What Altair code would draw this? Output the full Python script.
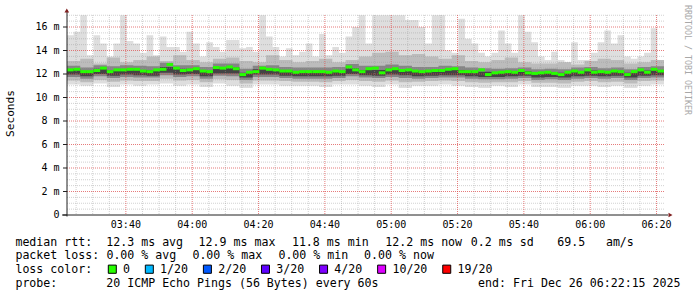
import altair as alt
import pandas as pd

# ---------------- data ----------------
START_MIN = 202.25   # 03:22:15, minutes after midnight
END_MIN = 382.25     # 06:22:15
MED_STEP = 2.0
BAND_STEP = 4.0

median_ms = [
    12.35, 12.4, 12.2, 12.2, 12.3, 12.5, 12.2, 12.35, 12.35, 12.4, 12.4, 12.25, 12.2, 12.35, 12.4, 12.8, 12.5, 12.3,
    12.35, 12.45, 12.25, 12.2, 12.55, 12.5, 12.6, 12.45, 11.95, 12.15, 12.2, 12.5, 12.4, 12.35, 12.25, 12.25, 12.15, 12.2,
    12.2, 12.2, 12.2, 12.15, 12.25, 12.2, 12.6, 12.35, 12.2, 12.45, 12.5, 12.1, 12.35, 12.45, 12.3, 12.35, 12.25, 12.2,
    12.25, 12.3, 12.3, 12.4, 12.45, 12.2, 12.2, 12.2, 12.35, 11.95, 12.1, 12.15, 12.2, 12.15, 12.3, 12.1, 12.05, 12.1,
    12.15, 12.05, 11.95, 12.15, 12.25, 12.15, 12.35, 12.15, 12.2, 12.15, 12.25, 12.2, 11.95, 12.2, 12.35, 12.15, 12.4, 12.25,
]
max_ms = [
    15.3, 15.6, 17.0, 13.6, 15.3, 14.6, 13.5, 14.6, 17.0, 14.8, 14.6, 13.8, 15.3, 13.6, 15.2, 14.3, 14.3, 13.9,
    15.6, 14.6, 13.5, 14.7, 14.3, 13.9, 14.9, 14.9, 14.2, 14.3, 13.9, 17.0, 15.2, 14.3, 13.5, 14.2, 13.6, 13.9,
    14.6, 13.5, 15.4, 13.6, 14.3, 13.8, 15.2, 16.0, 17.0, 14.6, 17.0, 17.0, 17.0, 17.0, 17.0, 16.6, 16.6, 16.0,
    14.6, 17.0, 17.0, 14.0, 13.8, 16.7, 15.0, 14.6, 13.8, 13.5, 13.8, 15.7, 14.6, 13.8, 17.0, 15.6, 14.7, 13.5,
    13.2, 13.9, 13.2, 13.0, 14.7, 13.2, 13.2, 13.8, 14.7, 15.7, 14.6, 15.3, 13.5, 13.3, 13.5, 13.8, 15.9, 12.9,
]
min_ms = [
    11.1, 11.0, 11.2, 10.9, 11.1, 11.0, 11.1, 11.2, 11.0,
    11.1, 10.9, 11.2, 11.0, 10.8, 11.1, 11.1, 11.0, 11.0,
    11.0, 10.9, 11.1, 11.1, 11.0, 10.9, 11.1, 10.8, 11.0,
    11.0, 11.1, 11.0, 10.9, 10.8, 11.0, 10.9, 11.1, 10.9,
    10.9, 10.8, 11.0, 11.0, 10.9, 11.0, 10.8, 11.0, 11.1,
]
p10_ms = [
    11.45, 11.3, 11.5, 11.35, 11.45, 11.4, 11.4, 11.6, 11.45,
    11.5, 11.3, 11.55, 11.5, 11.2, 11.45, 11.45, 11.4, 11.35,
    11.35, 11.3, 11.4, 11.5, 11.4, 11.35, 11.45, 11.3, 11.35,
    11.4, 11.45, 11.4, 11.3, 11.25, 11.3, 11.3, 11.4, 11.25,
    11.25, 11.2, 11.35, 11.4, 11.3, 11.35, 11.2, 11.4, 11.45,
]
p25_ms = [
    11.75, 11.6, 11.8, 11.65, 11.75, 11.7, 11.7, 11.9, 11.75,
    11.8, 11.6, 11.85, 11.8, 11.5, 11.75, 11.75, 11.65, 11.6,
    11.6, 11.6, 11.65, 11.8, 11.7, 11.65, 11.75, 11.65, 11.6,
    11.65, 11.7, 11.7, 11.6, 11.55, 11.55, 11.6, 11.65, 11.5,
    11.55, 11.5, 11.6, 11.65, 11.6, 11.65, 11.5, 11.65, 11.7,
]
p40_ms = [
    11.95, 11.8, 12.0, 11.85, 11.95, 11.9, 11.85, 12.1, 11.95,
    12.0, 11.8, 12.05, 12.05, 11.7, 11.95, 11.95, 11.85, 11.8,
    11.8, 11.8, 11.85, 12.0, 11.9, 11.85, 11.95, 11.9, 11.8,
    11.85, 11.9, 11.9, 11.8, 11.75, 11.75, 11.8, 11.85, 11.7,
    11.75, 11.7, 11.8, 11.85, 11.8, 11.85, 11.7, 11.85, 11.9,
]
p60_ms = [
    12.4, 12.25, 12.45, 12.3, 12.4, 12.35, 12.3, 12.6, 12.45,
    12.45, 12.25, 12.55, 12.55, 12.1, 12.4, 12.4, 12.3, 12.2,
    12.25, 12.2, 12.25, 12.5, 12.35, 12.35, 12.45, 12.35, 12.25,
    12.3, 12.4, 12.35, 12.25, 12.2, 12.15, 12.2, 12.25, 12.1,
    12.15, 12.1, 12.25, 12.3, 12.2, 12.25, 12.1, 12.3, 12.35,
]
p75_ms = [
    12.7, 12.55, 12.75, 12.65, 12.75, 12.7, 12.65, 12.95, 12.75,
    12.75, 12.6, 12.9, 12.9, 12.45, 12.7, 12.75, 12.6, 12.55,
    12.55, 12.55, 12.6, 12.85, 12.7, 12.7, 12.8, 12.7, 12.6,
    12.6, 12.7, 12.65, 12.55, 12.5, 12.45, 12.5, 12.55, 12.4,
    12.45, 12.4, 12.55, 12.6, 12.5, 12.55, 12.4, 12.6, 12.65,
]
p90_ms = [
    13.1, 13.3, 12.9, 13.4, 13.0, 13.2, 13.5, 13.1, 13.6,
    13.2, 13.0, 13.3, 13.4, 13.1, 13.0, 13.6, 13.2, 13.0,
    13.1, 13.3, 13.0, 13.2, 13.5, 13.8, 13.9, 13.6, 13.7,
    13.5, 13.3, 13.6, 13.1, 13.0, 13.2, 13.4, 13.0, 12.9,
    12.9, 13.0, 12.8, 13.1, 13.3, 13.2, 12.9, 13.0, 13.2,
]

x_tick_values = [220, 240, 260, 280, 300, 320, 340, 360, 380]
x_tick_labels = ["03:40", "04:00", "04:20", "04:40", "05:00", "05:20", "05:40", "06:00", "06:20"]
y_tick_values = [0, 2, 4, 6, 8, 10, 12, 14, 16]
y_tick_labels = ["0\u00a0\u00a0", "2 m", "4 m", "6 m", "8 m", "10 m", "12 m", "14 m", "16 m"]

loss_labels = ["0", "1/20", "2/20", "3/20", "4/20", "10/20", "19/20"]
loss_colors = ["#26ff00", "#00b8ff", "#0059ff", "#5e00ff", "#7e00ff", "#dd00ff", "#ff0000"]

row1_texts = ["median rtt:", "12.3 ms avg", "12.9 ms max", "11.8 ms min", "12.2 ms now", "0.2 ms sd", "69.5", "am/s"]
row2_texts = ["packet loss:", "0.00 % avg", "0.00 % max", "0.00 % min", "0.00 % now"]
row3_text = "loss color:"
row4_texts = ["probe:", "20 ICMP Echo Pings (56 Bytes) every 60s"]
end_text = "end: Fri Dec 26 06:22:15 2025"
watermark = "RRDTOOL / TOBI OETIKER"
y_title = "Seconds"

# ---------------- layout ----------------
W, H = 597, 200
LEFT, TOP = 67, 15
YMAX = 200 / 11.75
FONT = "DejaVu Sans Mono"

xs = alt.Scale(domain=[START_MIN, END_MIN], nice=False, zero=False)
ys = alt.Scale(domain=[0, YMAX], nice=False, zero=False)


def stepped(step, **cols):
    n = len(next(iter(cols.values())))
    rows = []
    for i in range(n + 1):
        j = min(i, n - 1)
        row = {"t": START_MIN + step * i}
        for k, v in cols.items():
            row[k] = v[j]
        rows.append(row)
    return pd.DataFrame(rows)


med_area = stepped(MED_STEP, med=median_ms, mx=max_ms)
band = stepped(BAND_STEP, lo=min_ms, p10=p10_ms, p25=p25_ms, p40=p40_ms,
               p60=p60_ms, p75=p75_ms, p90=p90_ms)
med_rules = pd.DataFrame({
    "t0": [START_MIN + MED_STEP * i for i in range(len(median_ms))],
    "t1": [START_MIN + MED_STEP * (i + 1) for i in range(len(median_ms))],
    "med": median_ms,
})


def area(df, top, bottom, color):
    return alt.Chart(df).mark_area(interpolate="step-after", color=color, opacity=1).encode(
        x=alt.X("t:Q", scale=xs, axis=None),
        y=alt.Y(f"{top}:Q", scale=ys, axis=None),
        y2=alt.Y2(f"{bottom}:Q"),
    )


smoke = [
    area(med_area, "mx", "med", "#dedede"),
    area(band, "p90", "lo", "#dedede"),
    area(band, "p90", "p10", "#bcbcbc"),
    area(band, "p75", "p25", "#858585"),
    area(band, "p60", "p40", "#444444"),
]

# grid
minor_y = [v / 2 for v in range(1, 35) if v % 4 != 0]
major_y = [v for v in y_tick_values if v > 0]
minor_x = [205 + 5 * k for k in range(36) if (205 + 5 * k) % 20 != 0]
major_x = x_tick_values


def hgrid(vals, color, opacity):
    return alt.Chart(pd.DataFrame({"v": vals})).mark_rule(
        color=color, opacity=opacity, strokeDash=[1, 1], strokeWidth=1).encode(
        y=alt.Y("v:Q", scale=ys, axis=None), x=alt.value(0), x2=alt.value(W))


def vgrid(vals, color, opacity):
    return alt.Chart(pd.DataFrame({"v": vals})).mark_rule(
        color=color, opacity=opacity, strokeDash=[1, 1], strokeWidth=1).encode(
        x=alt.X("v:Q", scale=xs, axis=None), y=alt.value(0), y2=alt.value(H))


grid = [
    hgrid(minor_y, "#9a9a9a", 0.45),
    vgrid(minor_x, "#9a9a9a", 0.45),
    hgrid(major_y, "#de4f4f", 0.75),
    vgrid(major_x, "#de4f4f", 0.75),
]

median_layer = alt.Chart(med_rules).mark_rule(color="#26ff00", strokeWidth=3, strokeCap="butt").encode(
    x=alt.X("t0:Q", scale=xs, axis=None), x2="t1:Q", y=alt.Y("med:Q", scale=ys, axis=None))

one = pd.DataFrame({"k": [0]})
axis_lines = [
    alt.Chart(one).mark_rule(color="#212121", strokeWidth=1).encode(
        x=alt.value(0), y=alt.value(-5), y2=alt.value(201.5)),
    alt.Chart(one).mark_rule(color="#212121", strokeWidth=1).encode(
        x=alt.value(-5), x2=alt.value(601), y=alt.value(200)),
    alt.Chart(one).mark_point(shape="triangle-up", filled=True, color="#802121", size=22, opacity=1).encode(
        x=alt.value(-0.2), y=alt.value(-4.5)),
    alt.Chart(one).mark_point(shape="triangle-right", filled=True, color="#802121", size=22, opacity=1).encode(
        x=alt.value(603.5), y=alt.value(200)),
]

# axis ticks and labels
y_ticks_df = pd.DataFrame({"v": y_tick_values, "lab": y_tick_labels})
x_ticks_df = pd.DataFrame({"v": x_tick_values, "lab": x_tick_labels})
y_tick_marks = alt.Chart(y_ticks_df).mark_rule(color="#212121", strokeWidth=1).encode(
    y=alt.Y("v:Q", scale=ys, axis=None), x=alt.value(-4), x2=alt.value(0))
y_tick_text = alt.Chart(y_ticks_df).mark_text(
    align="right", baseline="middle", font=FONT, fontSize=10, color="#000000").encode(
    y=alt.Y("v:Q", scale=ys, axis=None), x=alt.value(59.5 - LEFT), text="lab:N")
x_tick_text = alt.Chart(x_ticks_df).mark_text(
    align="center", baseline="alphabetic", font=FONT, fontSize=10, color="#000000").encode(
    x=alt.X("v:Q", scale=xs, axis=None), y=alt.value(228.3 - TOP), text="lab:N")

# footer texts (x, y in image pixels -> plot coords)
r1, r2, r3, r4 = 245.6, 259.2, 273.0, 286.7
row1_x = [15.4, 106.3, 198.6, 291.9, 385.3, 470.8, 557.3, 605.9]
row2_x = [15.4, 106.4, 192.4, 278.4, 364.1]
row4_x = [15.4, 106.3]
left_rows = []
for xs_, txts, yy in [(row1_x, row1_texts, r1), (row2_x, row2_texts, r2), ([15.4], [row3_text], r3), (row4_x, row4_texts, r4)]:
    for xx, tt in zip(xs_, txts):
        left_rows.append({"x": xx - LEFT, "y": yy - TOP, "text": tt})

sq_rows = []
sq_left = 108.3
for lab, col in zip(loss_labels, loss_colors):
    sq_rows.append({"x": sq_left - LEFT, "x2": sq_left + 8 - LEFT, "y": 265.1 - TOP, "y2": 273.3 - TOP, "c": col, "lab": lab})
    left_rows.append({"x": sq_left + 14.8 - LEFT, "y": r3 - TOP, "text": lab})
    sq_left = sq_left + 15.5 + 7.02 * len(lab) + 14.5

text_left = alt.Chart(pd.DataFrame(left_rows)).mark_text(
    align="left", baseline="alphabetic", font=FONT, fontSize=11.6, color="#000000").encode(
    x=alt.X("x:Q", scale=None, axis=None), y=alt.Y("y:Q", scale=None, axis=None), text="text:N")

text_right = alt.Chart(pd.DataFrame({"t": [end_text]})).mark_text(
    align="right", baseline="alphabetic", font=FONT, fontSize=11.6, color="#000000").encode(
    x=alt.value(680.5 - LEFT), y=alt.value(r4 - TOP), text="t:N")

squares = alt.Chart(pd.DataFrame(sq_rows)).mark_rect(stroke="#000000", strokeWidth=1).encode(
    x=alt.X("x:Q", scale=None, axis=None), x2="x2:Q",
    y=alt.Y("y:Q", scale=None, axis=None), y2="y2:Q",
    color=alt.Color("c:N", scale=None, legend=None))

title_layer = alt.Chart(pd.DataFrame({"t": [y_title]})).mark_text(
    angle=270, align="center", baseline="middle", font=FONT, fontSize=11.1, color="#000000").encode(
    x=alt.value(10.5 - LEFT), y=alt.value(113.5 - TOP), text="t:N")

wm_layer = alt.Chart(pd.DataFrame({"t": [watermark]})).mark_text(
    angle=90, align="left", baseline="middle", font=FONT, fontSize=8.3, color="#a8a8a8").encode(
    x=alt.value(687 - LEFT), y=alt.value(5 - TOP), text="t:N")

chart = alt.layer(
    *smoke, *grid, median_layer, *axis_lines, y_tick_marks, y_tick_text, x_tick_text,
    text_left, text_right, squares, title_layer, wm_layer
).properties(
    width=W, height=H, autosize="none",
    padding={"left": LEFT, "top": TOP, "right": 697 - LEFT - W, "bottom": 297 - TOP - H},
    background="white",
).configure_view(stroke=None)

chart.save("out.html", embed_options={"renderer": "svg", "actions": False})
